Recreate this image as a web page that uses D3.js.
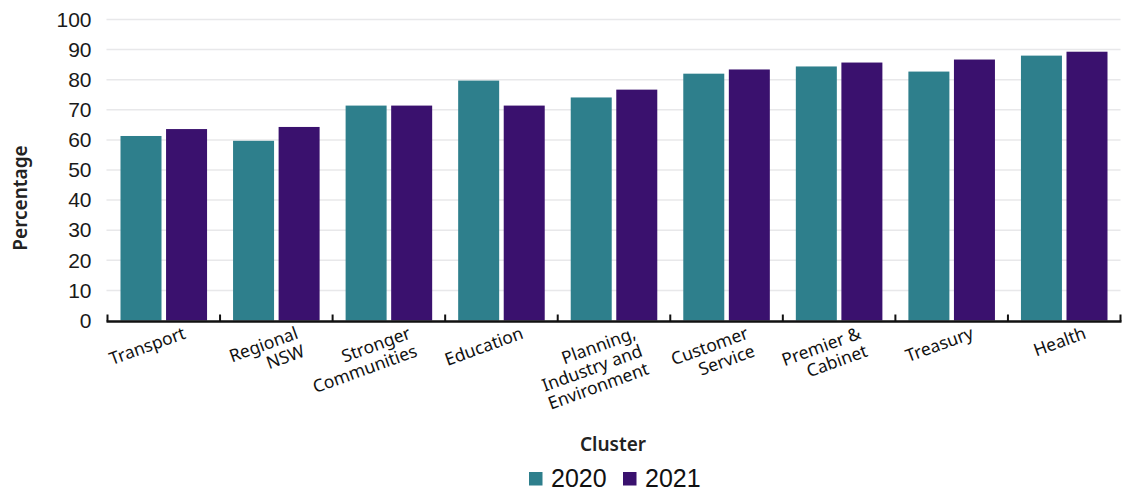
<!DOCTYPE html>
<html><head><meta charset="utf-8">
<script src="https://cdn.jsdelivr.net/npm/d3@7"></script>
<style>body{margin:0;background:#fff;}svg{display:block;}</style>
</head><body>
<svg id="c" width="1125" height="491"></svg>
<script>
const categories = ["Transport","Regional NSW","Stronger Communities","Education","Planning, Industry and Environment","Customer Service","Premier & Cabinet","Treasury","Health"];
const labelLines = [["Transport"],["Regional","NSW"],["Stronger","Communities"],["Education"],["Planning,","Industry and","Environment"],["Customer","Service"],["Premier &","Cabinet"],["Treasury"],["Health"]];
const series = ["2020","2021"];
const values2020 = [61.3, 59.7, 71.4, 79.7, 74.1, 82.0, 84.4, 82.7, 88.0];
const values2021 = [63.6, 64.3, 71.4, 71.4, 76.7, 83.4, 85.7, 86.7, 89.3];
const yTicks = [0,10,20,30,40,50,60,70,80,90,100];
const colors = ["#2e7f8c","#3a116e"];

const svg = d3.select("#c");
const L = 107.5, R = 1120.5, T = 19.5, B = 320.5;
const x0 = d3.scaleBand().domain(categories).range([L, R]).padding(0);
const x1 = d3.scaleBand().domain(series).range([13, x0.bandwidth() - 13]).paddingInner(0.1).paddingOuter(0);
const y = d3.scaleLinear().domain([0, 100]).range([B, T]);

// grid
svg.append("g").selectAll("line").data(yTicks.filter(d => d > 0)).join("line")
  .attr("x1", L - 1).attr("x2", R).attr("y1", d => y(d)).attr("y2", d => y(d))
  .attr("stroke", "#e8e8ea").attr("stroke-width", 1.5);

// y axis labels
const yAxis = d3.axisLeft(y).tickValues(yTicks).tickSize(0).tickPadding(16);
const ya = svg.append("g").attr("transform", `translate(${L},0)`).call(yAxis);
ya.select(".domain").remove();
ya.selectAll("text").attr("font-family", "Liberation Sans, Arial, sans-serif").attr("font-size", 21).attr("fill", "#1a1a1a");

// bars
const data = categories.map((c, i) => ({c, vals: [values2020[i], values2021[i]]}));
const g = svg.append("g").selectAll("g").data(data).join("g").attr("transform", d => `translate(${x0(d.c)},0)`);
g.selectAll("rect").data(d => d.vals.map((v, j) => ({s: series[j], v, j}))).join("rect")
  .attr("x", d => x1(d.s)).attr("width", x1.bandwidth())
  .attr("y", d => y(d.v)).attr("height", d => y(0) - y(d.v))
  .attr("fill", d => colors[d.j]);

// x axis line + ticks
svg.append("line").attr("x1", L - 1).attr("x2", R + 1).attr("y1", B + 1).attr("y2", B + 1).attr("stroke", "#111").attr("stroke-width", 2.5);
const bounds = categories.map(c => x0(c)).concat([R]);
svg.append("g").selectAll("line").data(bounds).join("line")
  .attr("x1", d => d).attr("x2", d => d).attr("y1", B - 6).attr("y2", B + 1)
  .attr("stroke", "#111").attr("stroke-width", 2);

// x labels
const xl = svg.append("g").selectAll("g").data(categories).join("g")
  .attr("transform", (d) => `translate(${x0(d) + x0.bandwidth() / 2 + 23},338) rotate(-20)`);
xl.each(function(d, i) {
  const t = d3.select(this).append("text").attr("text-anchor", "end")
    .attr("font-family", "Noto Sans, sans-serif").attr("font-size", 17.5).attr("fill", "#111");
  labelLines[i].forEach((ln, k) => t.append("tspan").attr("x", 0).attr("y", k * 19).text(ln));
});

// axis titles
svg.append("text").attr("transform", `translate(27,198) rotate(-90)`).attr("text-anchor", "middle")
  .attr("font-family", "Noto Sans, sans-serif").attr("font-weight", 600).attr("font-size", 19).attr("fill", "#222").text("Percentage");
svg.append("text").attr("x", 613).attr("y", 451).attr("text-anchor", "middle")
  .attr("font-family", "Noto Sans, sans-serif").attr("font-weight", 600).attr("font-size", 19).attr("fill", "#222").text("Cluster");

// legend
const leg = [{s: "2020", x: 529}, {s: "2021", x: 623}];
leg.forEach((l, j) => {
  svg.append("rect").attr("x", l.x).attr("y", 472).attr("width", 13.5).attr("height", 13.5).attr("fill", colors[j]);
  svg.append("text").attr("x", l.x + 22).attr("y", 487).attr("font-family", "Liberation Sans, Arial, sans-serif")
    .attr("font-size", 25).attr("fill", "#111").text(l.s);
});
</script>
</body></html>
